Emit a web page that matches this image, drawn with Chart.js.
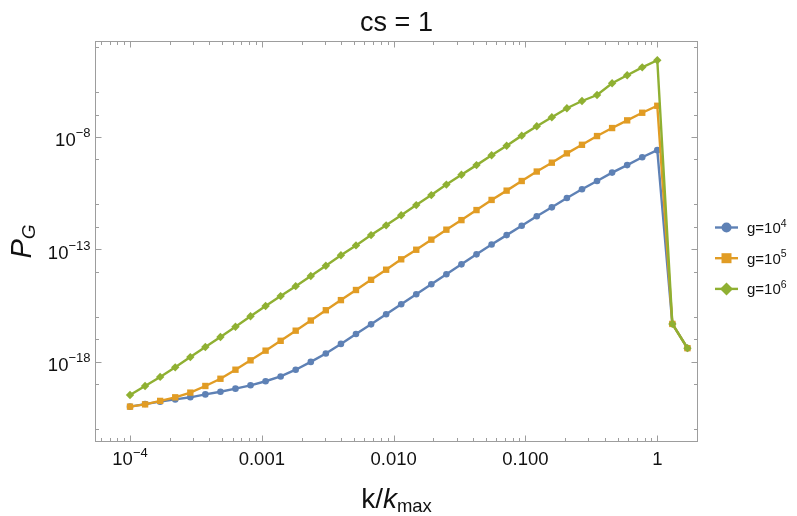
<!DOCTYPE html>
<html>
<head>
<meta charset="utf-8">
<script src="https://cdn.jsdelivr.net/npm/chart.js"></script>
<style>
  html, body { margin: 0; padding: 0; background: #fff; }
</style>
</head>
<body>
<canvas id="chartPG" width="797" height="516"></canvas>
<script>
/* ---------- Dados ---------- */
const kValues = [
  1.000e-4, 1.301e-4, 1.693e-4, 2.203e-4, 2.868e-4, 3.728e-4, 4.853e-4, 6.310e-4, 8.209e-4,
  1.068e-3, 1.389e-3, 1.807e-3, 2.352e-3, 3.059e-3, 3.981e-3, 5.179e-3, 6.741e-3, 8.770e-3,
  1.141e-2, 1.484e-2, 1.931e-2, 2.512e-2, 3.268e-2, 4.252e-2, 5.533e-2, 7.197e-2, 9.363e-2,
  0.1218, 0.1585, 0.2062, 0.2683, 0.3490, 0.4541, 0.5908, 0.7686, 1.000, 1.301, 1.693
];
const pG_g1e4 = [
  1.0e-20, 1.3e-20, 1.66e-20, 2.1e-20, 2.6e-20, 3.5e-20, 4.6e-20, 6.3e-20, 8.9e-20,
  1.35e-19, 2.2e-19, 4.4e-19, 9.8e-19, 2.3e-18, 6.2e-18, 1.7e-17, 4.6e-17, 1.29e-16,
  3.6e-16, 1.0e-15, 2.8e-15, 7.8e-15, 2.15e-14, 6.0e-14, 1.65e-13, 4.3e-13, 1.13e-12,
  2.95e-12, 7.4e-12, 1.94e-11, 4.7e-11, 1.1e-10, 2.6e-10, 5.6e-10, 1.26e-9, 2.6e-9,
  4.8e-17, 4.0e-18
];
const pG_g1e5 = [
  1.0e-20, 1.26e-20, 1.8e-20, 2.6e-20, 4.2e-20, 8.3e-20, 1.74e-19, 4.4e-19, 1.15e-18,
  3.1e-18, 8.5e-18, 2.4e-17, 6.8e-17, 1.95e-16, 5.5e-16, 1.55e-15, 4.4e-15, 1.24e-14,
  3.6e-14, 9.6e-14, 2.7e-13, 7.5e-13, 2.0e-12, 5.6e-12, 1.58e-11, 4.1e-11, 1.1e-10,
  2.9e-10, 7.2e-10, 1.87e-9, 4.5e-9, 1.1e-8, 2.5e-8, 5.5e-8, 1.2e-7, 2.45e-7,
  4.8e-17, 4.0e-18
];
const pG_g1e6 = [
  3.3e-20, 8.3e-20, 2.1e-19, 5.6e-19, 1.6e-18, 4.5e-18, 1.26e-17, 3.6e-17, 1.05e-16,
  3.0e-16, 8.3e-16, 2.3e-15, 6.5e-15, 1.87e-14, 5.5e-14, 1.5e-13, 4.3e-13, 1.17e-12,
  3.3e-12, 9.3e-12, 2.6e-11, 7.6e-11, 2.1e-10, 5.6e-10, 1.54e-9, 4.1e-9, 1.15e-8,
  3.0e-8, 7.6e-8, 1.9e-7, 4.0e-7, 7.4e-7, 2.45e-6, 5.6e-6, 1.26e-5, 2.6e-5,
  4.8e-17, 4.0e-18
];
const seriesNames   = [["g=10", "4"], ["g=10", "5"], ["g=10", "6"]];

const xMajorTicks   = [1e-4, 1e-3, 1e-2, 1e-1, 1];
const xTickLabels   = [["10", "\u22124"], ["0.001"], ["0.010"], ["0.100"], ["1"]];
const xMinorTicks   = [
  6e-5, 7e-5, 8e-5, 9e-5,
  2e-4, 3e-4, 4e-4, 5e-4, 6e-4, 7e-4, 8e-4, 9e-4,
  2e-3, 3e-3, 4e-3, 5e-3, 6e-3, 7e-3, 8e-3, 9e-3,
  2e-2, 3e-2, 4e-2, 5e-2, 6e-2, 7e-2, 8e-2, 9e-2,
  0.2, 0.3, 0.4, 0.5, 0.6, 0.7, 0.8, 0.9, 2
];
const yMajorTicks   = [1e-8, 1e-13, 1e-18];
const yTickLabels   = [["10", "\u22128"], ["10", "\u221213"], ["10", "\u221218"]];
const yMinorTicks   = [1e-4, 1e-6, 1e-7, 1e-9, 1e-11, 1e-12, 1e-14, 1e-16, 1e-17, 1e-19, 1e-21];

(function () {
  "use strict";

  /* ---------- Paleta (Mathematica default) ---------- */
  const BLUE   = "#5E81B5";
  const ORANGE = "#E19C24";
  const GREEN  = "#8FB032";
  const FRAME  = "#9d9d9d";
  const TEXT   = "#111";
  const FONT   = "'Liberation Sans', Arial, sans-serif";

  function font(size, italic) {
    return (italic ? "italic " : "") + size + "px " + FONT;
  }

  // desenha uma sequência de trechos (base / sobrescrito / subscrito)
  function drawRuns(ctx, runs, x, y, align) {
    let total = 0;
    runs.forEach(r => { ctx.font = r.font; r.w = ctx.measureText(r.t).width; total += r.w; });
    let cx = align === "center" ? x - total / 2 : align === "right" ? x - total : x;
    ctx.textAlign = "left";
    ctx.textBaseline = "alphabetic";
    runs.forEach(r => { ctx.font = r.font; ctx.fillText(r.t, cx, y + (r.dy || 0)); cx += r.w; });
  }

  function labelRuns(parts, size, supSize, supDy) {
    const runs = [{ t: parts[0], font: font(size) }];
    if (parts[1]) runs.push({ t: parts[1], font: font(supSize), dy: supDy });
    return runs;
  }

  function marker(ctx, style, x, y, r, color) {
    ctx.fillStyle = color;
    ctx.beginPath();
    if (style === "circle") ctx.arc(x, y, r, 0, Math.PI * 2);
    else if (style === "rect") ctx.rect(x - r, y - r, 2 * r, 2 * r);
    else { ctx.moveTo(x - r, y); ctx.lineTo(x, y - r); ctx.lineTo(x + r, y); ctx.lineTo(x, y + r); ctx.closePath(); }
    ctx.fill();
  }

  /* ---------- Moldura, ticks, rótulos e legenda ---------- */
  const frameDecor = {
    id: "frameDecor",
    beforeDraw(chart) {
      const ctx = chart.ctx;
      ctx.save();
      ctx.fillStyle = "#fff";
      ctx.fillRect(0, 0, chart.width, chart.height);
      ctx.restore();
    },
    afterDraw(chart) {
      const { ctx, chartArea: a, scales: { x, y } } = chart;
      const L = Math.round(a.left) + 0.5, R = Math.round(a.right) - 0.5;
      const T = Math.round(a.top) + 0.5, B = Math.round(a.bottom) - 0.5;
      ctx.save();

      ctx.strokeStyle = FRAME;
      ctx.lineWidth = 1;
      ctx.strokeRect(L, T, R - L, B - T);

      ctx.beginPath();
      const xTick = (v, len) => {
        const px = Math.round(x.getPixelForValue(v)) + 0.5;
        ctx.moveTo(px, B); ctx.lineTo(px, B - len);
        ctx.moveTo(px, T); ctx.lineTo(px, T + len);
      };
      const yTick = (v, len) => {
        const py = Math.round(y.getPixelForValue(v)) + 0.5;
        ctx.moveTo(L, py); ctx.lineTo(L + len, py);
        ctx.moveTo(R, py); ctx.lineTo(R - len, py);
      };
      xMajorTicks.forEach(v => xTick(v, 6));
      xMinorTicks.forEach(v => xTick(v, 3.5));
      yMajorTicks.forEach(v => yTick(v, 6));
      yMinorTicks.forEach(v => yTick(v, 3.5));
      ctx.stroke();

      ctx.fillStyle = TEXT;
      xMajorTicks.forEach((v, i) => {
        drawRuns(ctx, labelRuns(xTickLabels[i], 18.5, 13, -8.5), x.getPixelForValue(v), B + 23.5, "center");
      });
      yMajorTicks.forEach((v, i) => {
        drawRuns(ctx, labelRuns(yTickLabels[i], 18.5, 13, -9), L - 5, y.getPixelForValue(v) + 9.5, "right");
      });

      const midX = (a.left + a.right) / 2;
      const midY = (a.top + a.bottom) / 2;

      // título
      drawRuns(ctx, [{ t: "cs = 1", font: font(27) }], midX, 31, "center");

      // eixo x: k/k_max
      drawRuns(ctx, [
        { t: "k/", font: font(28) },
        { t: "k", font: font(28, true) },
        { t: "max", font: font(18.5), dy: 4 },
      ], midX, 508, "center");

      // eixo y: P_G
      ctx.save();
      ctx.translate(31, midY);
      ctx.rotate(-Math.PI / 2);
      drawRuns(ctx, [
        { t: "P", font: font(29, true) },
        { t: "G", font: font(19, true), dy: 4 },
      ], 0, 0, "center");
      ctx.restore();

      // legenda
      chart.data.datasets.forEach((ds, i) => {
        const ly = midY - 14 + i * 30.7;
        ctx.strokeStyle = ds.borderColor;
        ctx.lineWidth = 2.4;
        ctx.beginPath();
        ctx.moveTo(a.right + 17, ly); ctx.lineTo(a.right + 40, ly);
        ctx.stroke();
        const r = ds.pointStyle === "rectRot" ? 6.5 : 5;
        marker(ctx, ds.pointStyle === "rectRot" ? "diamond" : ds.pointStyle, a.right + 28.5, ly, r, ds.borderColor);
        ctx.fillStyle = TEXT;
        drawRuns(ctx, labelRuns(seriesNames[i], 15, 10.5, -6.5), a.right + 49, ly + 5.5, "left");
      });

      ctx.restore();
    },
  };

  function points(values) {
    return kValues.map((k, i) => ({ x: k, y: values[i] }));
  }

  function series(values, color, style, radius, order) {
    return {
      data: points(values),
      borderColor: color,
      backgroundColor: color,
      pointBackgroundColor: color,
      pointBorderColor: color,
      pointBorderWidth: 0,
      borderWidth: 2.4,
      pointStyle: style,
      pointRadius: radius,
      tension: 0,
      order: order,
    };
  }

  new Chart(document.getElementById("chartPG"), {
    type: "line",
    data: {
      datasets: [
        series(pG_g1e4, BLUE, "circle", 3.3, 3),
        series(pG_g1e5, ORANGE, "rect", 4.5, 2),
        series(pG_g1e6, GREEN, "rectRot", 4.2, 1),
      ],
    },
    options: {
      responsive: false,
      animation: false,
      layout: { padding: { left: 95, right: 99, top: 41, bottom: 74 } },
      plugins: { legend: { display: false }, tooltip: { enabled: false }, title: { display: false } },
      scales: {
        x: { type: "logarithmic", display: false, min: 5.425e-5, max: 2.036 },
        y: { type: "logarithmic", display: false, min: 2.667e-22, max: 1.871e-4 },
      },
    },
    plugins: [frameDecor],
  });
})();
</script>
</body>
</html>
